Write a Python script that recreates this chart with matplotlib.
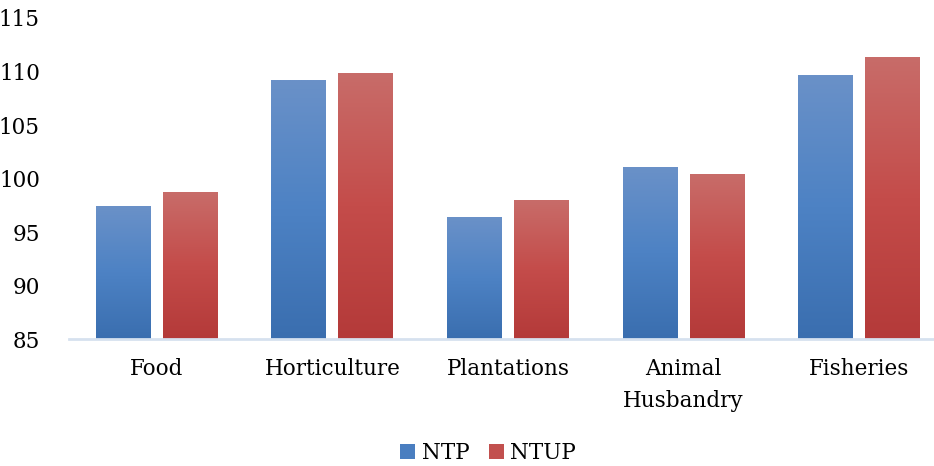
import numpy as np
import matplotlib
matplotlib.use("Agg")
import matplotlib.pyplot as plt
from matplotlib.colors import LinearSegmentedColormap
from matplotlib.patches import Patch

categories = ["Food", "Horticulture", "Plantations", "Animal\nHusbandry", "Fisheries"]
ntp = [97.4, 109.2, 96.4, 101.0, 109.6]
ntup = [98.7, 109.8, 97.9, 100.4, 111.3]
yticks = [85, 90, 95, 100, 105, 110, 115]

plt.rcParams["font.family"] = ["DejaVu Serif"]
FS = 15.5

blue_cmap = LinearSegmentedColormap.from_list("blue", ["#3A6EAF", "#4D82C4", "#6A91C8"])
red_cmap = LinearSegmentedColormap.from_list("red", ["#B43A39", "#C44C4A", "#C86C69"])

W, H = 934, 466
fig = plt.figure(figsize=(W / 100, H / 100), dpi=100)
ax = fig.add_axes([69 / W, (H - 339) / H, 878 / W, (339 - 18) / H])

x = np.arange(len(categories))
bw = 0.313
off = 0.191

grad = np.linspace(0, 1, 256).reshape(-1, 1)

def gradient_bars(xpos, vals, cmap):
    bars = ax.bar(xpos, np.array(vals) - 85, bw, bottom=85, color="none", edgecolor="none")
    for b in bars:
        x0, y0 = b.get_x(), b.get_y()
        ax.imshow(grad, cmap=cmap, origin="lower", aspect="auto",
                  extent=(x0, x0 + b.get_width(), y0, y0 + b.get_height()),
                  zorder=2, interpolation="bilinear")
    return bars

gradient_bars(x - off, ntp, blue_cmap)
gradient_bars(x + off, ntup, red_cmap)

ax.set_xlim(-0.5, len(categories) - 0.5)
ax.set_ylim(85, 115)
ax.set_yticks(yticks)
ax.set_yticklabels([str(t) for t in yticks], fontsize=FS)
ax.set_xticks(x)
ax.set_xticklabels(categories, fontsize=FS, linespacing=1.55)
ax.tick_params(axis="both", length=0)
ax.tick_params(axis="y", pad=21)
ax.tick_params(axis="x", pad=14)

for s in ["top", "right", "left"]:
    ax.spines[s].set_visible(False)
ax.spines["bottom"].set_color("#D6E1EF")
ax.spines["bottom"].set_linewidth(2)
ax.spines["bottom"].set_zorder(3)

handles = [Patch(facecolor="#4A7EC0", label="NTP"), Patch(facecolor="#C2504E", label="NTUP")]
fig.legend(handles=handles, loc="center", bbox_to_anchor=(488 / W, 1 - 453 / H), ncol=2,
           frameon=False, fontsize=FS, handlelength=0.7, handleheight=0.7,
           handletextpad=0.3, columnspacing=0.9)

fig.savefig("out.png", dpi=100)
